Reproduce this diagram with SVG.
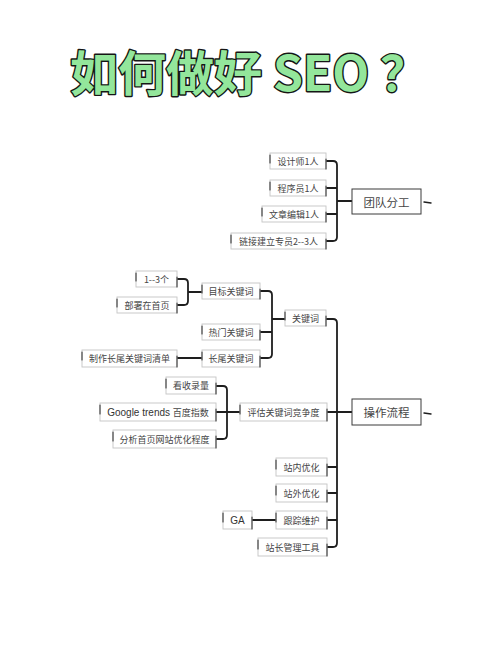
<svg xmlns="http://www.w3.org/2000/svg" width="500" height="656" viewBox="0 0 500 656">
<style>
.bg{fill:#ffffff}
.title{font-family:"Noto Sans CJK SC","Noto Sans",sans-serif;font-weight:bold;font-size:48px;fill:#93e69b;stroke:#151515;stroke-width:2.8px;paint-order:stroke;stroke-linejoin:round}
.box{fill:#ffffff;stroke:#c4c4c4;stroke-width:0.9}
.edge{fill:none;stroke:#3a3a3a;stroke-width:1.1;stroke-linecap:round}
.bigbox{fill:#ffffff;stroke:#3a3a3a;stroke-width:1}
.t{font-family:"Noto Sans CJK SC","Noto Sans",sans-serif;font-size:9px;fill:#454545;text-anchor:middle;dominant-baseline:central}
.tb{font-family:"Noto Sans CJK SC","Noto Sans",sans-serif;font-size:11.5px;fill:#454545;text-anchor:middle;dominant-baseline:central}
.lat{font-family:"Liberation Sans","Noto Sans",sans-serif;font-size:10px;fill:#333}
.conn{fill:none;stroke:#1e1e1e;stroke-width:1.8;stroke-linecap:round;stroke-linejoin:round}
.dash{fill:none;stroke:#1e1e1e;stroke-width:1.4;stroke-linecap:round}
</style>
<rect class="bg" x="0" y="0" width="500" height="656"/>
<text class="title" x="70" y="91">如何做好 SEO ？</text>

<g id="connectors">
  <path class="conn" d="M326,161 H333 Q337,161 337,165 V237 Q337,241 333,241 H326 M326,188 H337 M326,214 H337 M337,201 H352"/>
  <path class="dash" d="M424,202 L431,203"/>
  <path class="conn" d="M177,279 H184 Q188,279 188,283 V301 Q188,305 184,305 H177 M188,292 H202"/>
  <path class="conn" d="M177,358 H202"/>
  <path class="conn" d="M260,291 H268 Q272,291 272,295 V354 Q272,358 268,358 H260 M260,332 H272 M272,319 H285"/>
  <path class="conn" d="M326,319 H333 Q337,319 337,323 V543 Q337,547 333,547 H327 M327,467 H337 M327,493 H337 M327,520 H337 M327,412 H352"/>
  <path class="conn" d="M216,386 H223 Q227,386 227,390 V435 Q227,439 223,439 H216 M216,412 H240"/>
  <path class="dash" d="M424,413 L431,414"/>
  <path class="conn" d="M252,520 H276"/>
</g>

<g id="n_designer"><rect class="box" x="270" y="153" width="56" height="16"/><path class="edge" d="M270,155 V163 M326,159 V169"/><text class="t" x="298" y="161">设计师1人</text></g>
<g id="n_programmer"><rect class="box" x="270" y="180" width="56" height="16"/><path class="edge" d="M270,182 V190 M326,186 V196"/><text class="t" x="298" y="188">程序员1人</text></g>
<g id="n_editor"><rect class="box" x="262" y="206" width="64" height="16"/><path class="edge" d="M262,208 V216 M326,212 V222"/><text class="t" x="294" y="214">文章编辑1人</text></g>
<g id="n_linkbuilder"><rect class="box" x="231" y="233" width="95" height="16"/><path class="edge" d="M231,235 V243 M326,239 V249"/><text class="t" x="278.5" y="241">链接建立专员2--3人</text></g>
<g id="n_team"><rect class="bigbox" x="352" y="189" width="69" height="25"/><text class="tb" x="386.5" y="201.5">团队分工</text></g>

<g id="n_count"><rect class="box" x="136" y="271" width="41" height="16"/><path class="edge" d="M136,273 V281 M177,277 V287"/><text class="t" x="156.5" y="279">1--3个</text></g>
<g id="n_homepage"><rect class="box" x="117" y="297" width="60" height="16"/><path class="edge" d="M117,299 V307 M177,303 V313"/><text class="t" x="147" y="305">部署在首页</text></g>
<g id="n_target"><rect class="box" x="202" y="283" width="58" height="16"/><path class="edge" d="M202,285 V293 M260,289 V299"/><text class="t" x="231" y="291">目标关键词</text></g>
<g id="n_hot"><rect class="box" x="202" y="324" width="58" height="16"/><path class="edge" d="M202,326 V334 M260,330 V340"/><text class="t" x="231" y="332">热门关键词</text></g>
<g id="n_longtail"><rect class="box" x="202" y="350" width="58" height="17"/><path class="edge" d="M202,352 V360 M260,356 V367"/><text class="t" x="231" y="358.5">长尾关键词</text></g>
<g id="n_list"><rect class="box" x="82" y="350" width="95" height="17"/><path class="edge" d="M82,352 V360 M177,356 V367"/><text class="t" x="129.5" y="358.5">制作长尾关键词清单</text></g>
<g id="n_keyword"><rect class="box" x="285" y="310" width="41" height="16"/><path class="edge" d="M285,312 V320 M326,316 V326"/><text class="t" x="305.5" y="318">关键词</text></g>

<g id="n_index"><rect class="box" x="166" y="377" width="50" height="17"/><path class="edge" d="M166,379 V388 M216,383 V394"/><text class="t" x="191" y="385.5">看收录量</text></g>
<g id="n_trends"><rect class="box" x="100" y="403" width="116" height="18"/><path class="edge" d="M100,405 V414 M216,409 V421"/><text class="t" x="158" y="412"><tspan class="lat">Google trends </tspan>百度指数</text></g>
<g id="n_analysis"><rect class="box" x="113" y="430" width="103" height="18"/><path class="edge" d="M113,432 V441 M216,436 V448"/><text class="t" x="164.5" y="439">分析首页网站优化程度</text></g>
<g id="n_compete"><rect class="box" x="240" y="403" width="87" height="18"/><path class="edge" d="M240,405 V414 M327,409 V421"/><text class="t" x="283.5" y="412">评估关键词竞争度</text></g>
<g id="n_ops"><rect class="bigbox" x="352" y="399" width="69" height="26"/><text class="tb" x="386.5" y="412">操作流程</text></g>

<g id="n_onsite"><rect class="box" x="276" y="458" width="51" height="18"/><path class="edge" d="M276,460 V469 M327,464 V476"/><text class="t" x="301.5" y="467">站内优化</text></g>
<g id="n_offsite"><rect class="box" x="276" y="484" width="51" height="18"/><path class="edge" d="M276,486 V495 M327,490 V502"/><text class="t" x="301.5" y="493">站外优化</text></g>
<g id="n_track"><rect class="box" x="276" y="511" width="51" height="18"/><path class="edge" d="M276,513 V522 M327,517 V529"/><text class="t" x="301.5" y="520">跟踪维护</text></g>
<g id="n_ga"><rect class="box" x="223" y="511" width="29" height="18"/><path class="edge" d="M223,513 V522 M252,517 V529"/><text class="t" x="237.5" y="520"><tspan class="lat">GA</tspan></text></g>
<g id="n_webmaster"><rect class="box" x="258" y="538" width="69" height="18"/><path class="edge" d="M258,540 V549 M327,544 V556"/><text class="t" x="292.5" y="547">站长管理工具</text></g>
</svg>
